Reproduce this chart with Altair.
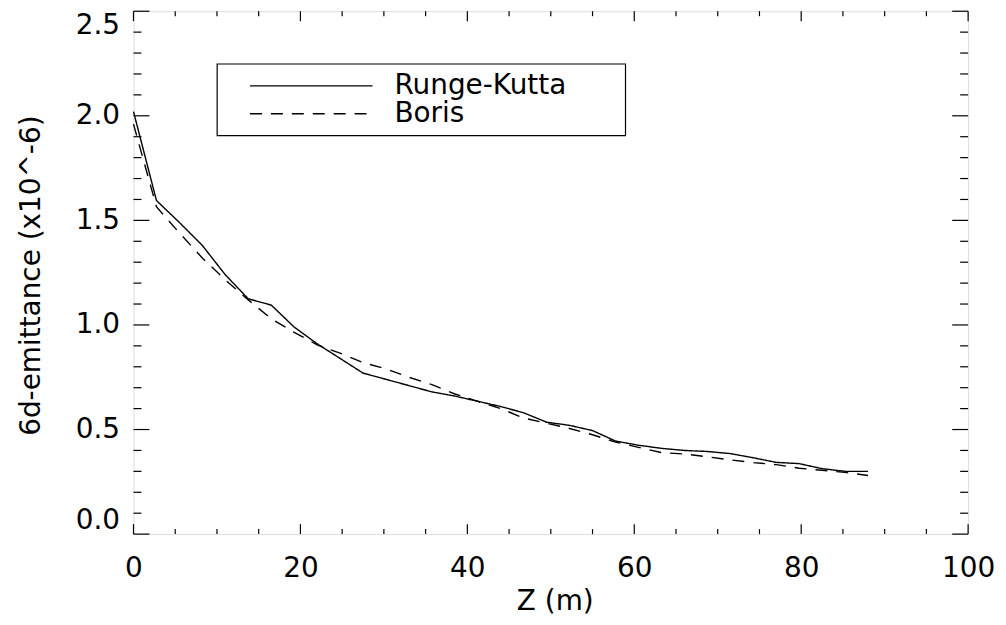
import altair as alt
import pandas as pd

# Z positions (m)
z = [0, 2.75, 5.5, 8.25, 11, 13.75, 16.5, 19.25, 22, 24.75, 27.5, 30.25, 33,
     35.75, 38.5, 41.25, 44, 46.75, 49.5, 52.25, 55, 57.75, 60.5, 63.25, 66,
     68.75, 71.5, 74.25, 77, 79.75, 82.5, 85.25, 88]

runge_kutta = [2.02, 1.595, 1.49, 1.38, 1.24, 1.125, 1.095, 0.99, 0.91, 0.84,
               0.77, 0.74, 0.71, 0.68, 0.66, 0.635, 0.61, 0.58, 0.535, 0.52,
               0.495, 0.445, 0.425, 0.41, 0.40, 0.395, 0.385, 0.365, 0.343,
               0.337, 0.313, 0.30, 0.30]

boris = [1.96, 1.565, 1.44, 1.32, 1.215, 1.12, 1.03, 0.965, 0.905, 0.865,
         0.82, 0.79, 0.75, 0.715, 0.67, 0.635, 0.60, 0.555, 0.53, 0.505,
         0.475, 0.44, 0.415, 0.39, 0.383, 0.37, 0.355, 0.342, 0.332, 0.315,
         0.305, 0.295, 0.28]

series = ["Runge-Kutta", "Boris"]

x_major = [0, 20, 40, 60, 80, 100]
x_minor = [v for v in range(0, 101, 5) if v % 20 != 0]
y_major = [0.0, 0.5, 1.0, 1.5, 2.0, 2.5]
y_minor = [round(i * 0.1, 1) for i in range(26) if i % 5 != 0]

W, H = 838, 525
FONT = "DejaVu Sans"

df = pd.DataFrame({
    "z": z * 2,
    "e": runge_kutta + boris,
    "method": [series[0]] * len(z) + [series[1]] * len(z),
})

xs = alt.Scale(domain=[0, 100], nice=False, zero=False)
ys = alt.Scale(domain=[0, 2.5], nice=False, zero=False)

ax_x = alt.Axis(values=x_major, format="d", ticks=False, tickSize=0,
                domain=False, grid=False, labelFontSize=28, labelFlush=False,
                labelFont=FONT, labelColor="black", labelPadding=21,
                titleFontSize=28, titleFont=FONT, titleColor="black",
                titleFontWeight="normal", titleX=423, titleY=76,
                titleAlign="center", titleBaseline="alphabetic")
ax_y = alt.Axis(values=y_major, format=".1f", ticks=False, tickSize=0,
                domain=False, grid=False, labelFontSize=28, labelFlush=True,
                labelFont=FONT, labelColor="black", labelPadding=14,
                titleFontSize=28, titleFont=FONT, titleColor="black",
                titleFontWeight="normal", titleX=-94, titleY=265,
                titleAngle=270, titleAlign="center",
                titleBaseline="alphabetic")
X_TITLE = "Z (m)"
Y_TITLE = "6d-emittance (x10^-6)"

lines = alt.Chart(df).mark_line(color="black", strokeWidth=1.4).encode(
    x=alt.X("z:Q", scale=xs, title=X_TITLE, axis=ax_x),
    y=alt.Y("e:Q", scale=ys, title=Y_TITLE, axis=ax_y),
    strokeDash=alt.StrokeDash(
        "method:N",
        scale=alt.Scale(domain=series, range=[[1, 0], [12, 9]]),
        legend=alt.Legend(orient="none", legendX=84, legendY=53, title=None,
                          symbolType="stroke", symbolSize=15129,
                          symbolStrokeWidth=1.4, symbolStrokeColor="black",
                          symbolOffset=24, labelOffset=21, clipHeight=28,
                          rowPadding=0, padding=8, labelFontSize=28,
                          labelFont=FONT, labelColor="black", labelLimit=500),
    ),
)

# legend frame
frame = alt.Chart(pd.DataFrame({"k": [0]})).mark_rect(
    fill="white", stroke="black", strokeWidth=1.2
).encode(x=alt.value(84), x2=alt.value(494), y=alt.value(53), y2=alt.value(125))


def tick_layer(vals, axis, side, length):
    d = pd.DataFrame({"z": vals, "e": vals})
    base = alt.Chart(d).mark_rule(color="black", strokeWidth=1.2)
    if axis == "x":
        y0 = H if side == "bottom" else 0
        y1 = H - length if side == "bottom" else length
        return base.encode(x=alt.X("z:Q", scale=xs, title=X_TITLE, axis=ax_x),
                           y=alt.value(y0), y2=alt.value(y1))
    x0 = 0 if side == "left" else W
    x1 = length if side == "left" else W - length
    return base.encode(y=alt.Y("e:Q", scale=ys, title=Y_TITLE, axis=ax_y),
                       x=alt.value(x0), x2=alt.value(x1))


ticks = [
    tick_layer(x_major, "x", "bottom", 10), tick_layer(x_minor, "x", "bottom", 5),
    tick_layer(x_major, "x", "top", 10), tick_layer(x_minor, "x", "top", 5),
    tick_layer(y_major, "y", "left", 16), tick_layer(y_minor, "y", "left", 8),
    tick_layer(y_major, "y", "right", 16), tick_layer(y_minor, "y", "right", 8),
]

chart = alt.layer(lines, frame, *ticks).properties(
    width=W, height=H,
    autosize=alt.AutoSizeParams(type="none"),
    padding={"left": 126, "top": 2, "right": 30, "bottom": 82},
).configure_view(stroke="black", strokeWidth=1.5).configure(background="white")

chart.save("out.html", embed_options={"renderer": "svg", "actions": False})
